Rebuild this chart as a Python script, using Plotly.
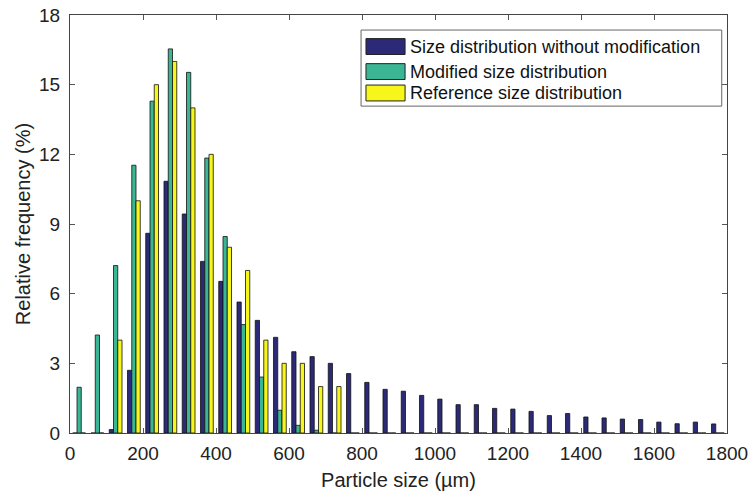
import plotly.graph_objects as go

bin_centers = [25 + 50 * i for i in range(36)]

without_mod = [0, 0, 0.15, 2.7, 8.6, 10.84, 9.43, 7.39, 6.53, 5.64, 4.85, 4.12, 3.5, 3.29,
               3.0, 2.56, 2.18, 1.88, 1.8, 1.62, 1.46, 1.22, 1.22, 1.06, 1.03, 0.93, 0.75,
               0.84, 0.69, 0.65, 0.6, 0.58, 0.47, 0.40, 0.47, 0.39]
modified = [1.97, 4.22, 7.21, 11.53, 14.29, 16.54, 15.53, 11.84, 8.46, 4.67, 2.41, 0.98,
            0.33, 0.12] + [0] * 22
reference = [0, 0, 4, 10, 15, 16, 14, 12, 8, 7, 4, 3, 3, 2, 2] + [0] * 21

names = ["Size distribution without modification", "Modified size distribution",
         "Reference size distribution"]
colors = ["#2c2a78", "#3bb694", "#f6f61a"]

x_ticks = list(range(0, 1801, 200))
y_ticks = list(range(0, 19, 3))

fig = go.Figure()
for name, vals, col in zip(names, [without_mod, modified, reference], colors):
    fig.add_trace(go.Bar(x=bin_centers, y=vals, name=name, showlegend=False,
                         marker=dict(color=col, line=dict(color="#111111", width=0.8))))

axis_common = dict(showline=True, linecolor="#444444", linewidth=1, mirror="ticks",
                   ticks="inside", ticklen=5, tickcolor="#555555", showgrid=False,
                   zeroline=False, tickfont=dict(size=19, color="#222222"),
                   title_font=dict(size=20, color="#222222"), automargin=False,
                   ticklabeloverflow="allow")

# MATLAB-style legend box (layout decoration in plot-area paper coordinates)
box = dict(x0=0.443, x1=0.992, y0=0.782, y1=0.964)
row_y = [0.9245, 0.8646, 0.8134]
sw_x0, sw_x1, sw_h = 0.4505, 0.510, 0.019
text_x = 0.514

shapes = [dict(type="rect", xref="paper", yref="paper", layer="above",
               line=dict(color="#666666", width=1), fillcolor="white", **box)]
annotations = []
for name, col, yy in zip(names, colors, row_y):
    shapes.append(dict(type="rect", xref="paper", yref="paper", layer="above",
                       x0=sw_x0, x1=sw_x1, y0=yy - sw_h, y1=yy + sw_h,
                       fillcolor=col, line=dict(color="#222222", width=1)))
    annotations.append(dict(xref="paper", yref="paper", x=text_x, y=yy, text=name,
                            showarrow=False, xanchor="left", yanchor="middle",
                            font=dict(size=18, color="#111111")))

fig.update_layout(
    width=748, height=495,
    margin=dict(l=70, r=21, t=15, b=62),
    paper_bgcolor="white", plot_bgcolor="white",
    font=dict(family="Liberation Sans, Arial, sans-serif", color="#222222"),
    barmode="group", bargap=0.3, bargroupgap=0,
    xaxis=dict(range=[0, 1800], tickvals=x_ticks, ticklabelstandoff=3,
               title=dict(text="Particle size (µm)", standoff=10), **axis_common),
    yaxis=dict(range=[0, 18], tickvals=y_ticks, ticklabelstandoff=5,
               title=dict(text="Relative frequency (%)", standoff=3), **axis_common),
    shapes=shapes,
    annotations=annotations,
    showlegend=False,
)

fig.write_html("out.html")
